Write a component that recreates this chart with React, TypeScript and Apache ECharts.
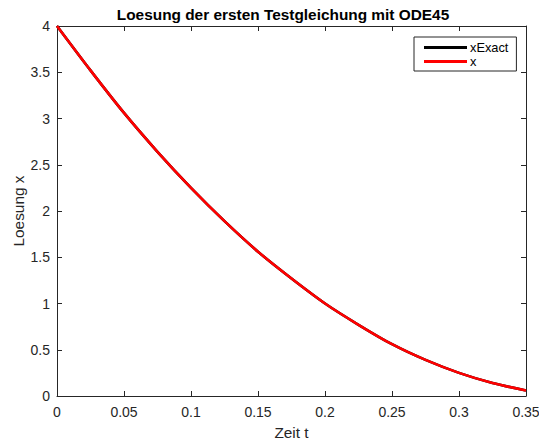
import React, { useEffect, useRef } from "react";
import * as echarts from "echarts";

const timeValues = [0, 0.025, 0.05, 0.075, 0.1, 0.125, 0.15, 0.175, 0.2, 0.225, 0.25, 0.275, 0.3, 0.325, 0.35];
const xExactValues = [4.0, 3.52, 3.06, 2.64, 2.25, 1.89, 1.56, 1.27, 1.0, 0.77, 0.56, 0.39, 0.25, 0.14, 0.06];
const xValues = [4.0, 3.52, 3.06, 2.64, 2.25, 1.89, 1.56, 1.27, 1.0, 0.77, 0.56, 0.39, 0.25, 0.14, 0.06];
const seriesNames = ["xExact", "x"];
const titleText = "Loesung der ersten Testgleichung mit ODE45";
const xLabel = "Zeit t";
const yLabel = "Loesung x";

const FONT = "'Liberation Sans', Arial, Helvetica, sans-serif";
const AX = "#262626";

export default function App() {
  const ref = useRef<HTMLDivElement>(null);
  useEffect(() => {
    document.body.style.margin = "0";
    const chart = echarts.init(ref.current!, undefined, { renderer: "svg" });
    const axisCommon = {
      type: "value" as const,
      axisLine: { show: true, onZero: false, lineStyle: { color: AX, width: 1 } },
      axisTick: { show: true, inside: true, length: 5, lineStyle: { color: AX, width: 1 } },
      splitLine: { show: false },
    };
    chart.setOption({
      animation: false,
      backgroundColor: "#ffffff",
      textStyle: { fontFamily: FONT },
      grid: { left: 57, right: 13, top: 26, bottom: 45, containLabel: false, outerBoundsMode: "none" },
      graphic: [
        {
          type: "text",
          x: 283,
          y: 14,
          style: {
            text: titleText,
            fontFamily: FONT,
            fontSize: 15.4,
            fontWeight: "bold",
            fill: "#000000",
            textAlign: "center",
            textVerticalAlign: "middle",
          },
        },
      ],
      legend: {
        show: true,
        orient: "vertical",
        left: 414,
        top: 37,
        padding: [4, 8, 3, 10],
        itemGap: 1,
        itemWidth: 43,
        itemHeight: 3,
        icon: "rect",
        borderColor: AX,
        borderWidth: 1,
        borderRadius: 0,
        backgroundColor: "#ffffff",
        textStyle: { fontFamily: FONT, fontSize: 12.8, color: "#000000", padding: [0, 0, 0, -2] },
        data: seriesNames,
      },
      xAxis: [
        {
          ...axisCommon,
          position: "bottom",
          min: 0,
          max: 0.35,
          interval: 0.05,
          name: xLabel,
          nameLocation: "middle",
          nameGap: 29,
          nameMoveOverlap: false,
          nameTextStyle: { fontFamily: FONT, fontSize: 15.4, color: AX },
          axisLabel: { show: true, margin: 9, fontFamily: FONT, fontSize: 14, color: AX },
        },
        {
          ...axisCommon,
          position: "top",
          min: 0,
          max: 0.35,
          interval: 0.05,
          axisLabel: { show: false },
        },
      ],
      yAxis: [
        {
          ...axisCommon,
          position: "left",
          min: 0,
          max: 4,
          interval: 0.5,
          name: yLabel,
          nameLocation: "middle",
          nameGap: 31,
          nameMoveOverlap: false,
          nameTextStyle: { fontFamily: FONT, fontSize: 15.4, color: AX },
          axisLabel: { show: true, margin: 7, fontFamily: FONT, fontSize: 14, color: AX },
        },
        {
          ...axisCommon,
          position: "right",
          min: 0,
          max: 4,
          interval: 0.5,
          axisLabel: { show: false },
        },
      ],
      series: [
        {
          name: seriesNames[0],
          type: "line",
          xAxisIndex: 0,
          yAxisIndex: 0,
          data: timeValues.map((t, i) => [t, xExactValues[i]]),
          symbol: "none",
          smooth: 0.3,
          lineStyle: { color: "#000000", width: 2.6 },
          itemStyle: { color: "#000000" },
        },
        {
          name: seriesNames[1],
          type: "line",
          xAxisIndex: 0,
          yAxisIndex: 0,
          data: timeValues.map((t, i) => [t, xValues[i]]),
          symbol: "none",
          smooth: 0.3,
          lineStyle: { color: "#ff0000", width: 2.6 },
          itemStyle: { color: "#ff0000" },
        },
      ],
    });
    return () => chart.dispose();
  }, []);
  return (
    <div
      ref={ref}
      style={{ position: "absolute", left: 0, top: 0, width: 539, height: 441 }}
    />
  );
}
